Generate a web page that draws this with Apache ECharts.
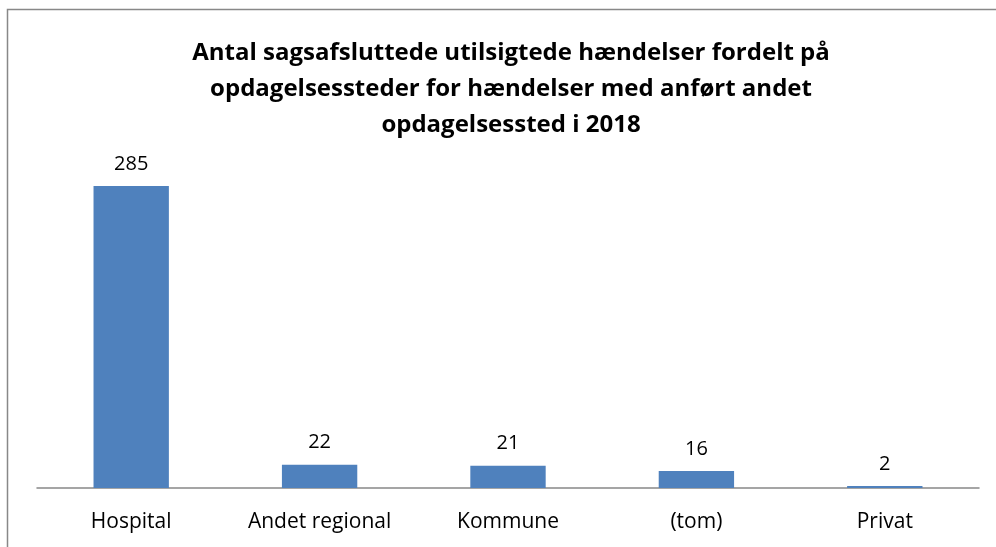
<!DOCTYPE html>
<html>
<head>
<meta charset="utf-8">
<script src="https://cdn.jsdelivr.net/npm/echarts@6/dist/echarts.min.js"></script>
<style>
  html, body { margin: 0; padding: 0; background: #fff; }
  #chart { width: 996px; height: 547px; }
</style>
</head>
<body>
<div id="chart"></div>
<script>
var categories = ['Hospital', 'Andet regional', 'Kommune', '(tom)', 'Privat'];
var counts = [285, 22, 21, 16, 2];
var titleText = 'Antal sagsafsluttede utilsigtede hændelser fordelt på\nopdagelsessteder for hændelser med anført andet\nopdagelsessted i 2018';

var chart = echarts.init(document.getElementById('chart'));
chart.setOption({
  animation: false,
  title: {
    text: titleText,
    left: 506,
    top: 30,
    textAlign: 'center',
    textStyle: {
      fontFamily: 'Open Sans',
      fontWeight: 'bold',
      fontSize: 24,
      lineHeight: 36,
      color: '#000'
    }
  },
  // chart frame, cut off at the right and bottom
  graphic: [{
    type: 'rect',
    shape: { x: 7.5, y: 9.5, width: 1100, height: 700 },
    style: { fill: 'none', stroke: '#888', lineWidth: 1.5 },
    silent: true
  }],
  grid: { left: 37, right: 17, top: 170, bottom: 59 },
  xAxis: {
    type: 'category',
    data: categories,
    axisTick: { show: false },
    axisLine: { lineStyle: { color: '#888', width: 1.5 } },
    axisLabel: {
      color: '#000',
      fontFamily: 'Open Sans',
      fontSize: 21,
      margin: 24
    }
  },
  yAxis: {
    type: 'value',
    min: 0,
    max: 300,
    show: false,
    splitLine: { show: false }
  },
  series: [{
    type: 'bar',
    data: counts,
    barWidth: '40%',
    itemStyle: { color: '#4F81BD' },
    label: {
      show: true,
      position: 'top',
      distance: 12,
      color: '#000',
      fontFamily: 'Open Sans',
      fontSize: 20
    }
  }]
});
</script>
</body>
</html>
